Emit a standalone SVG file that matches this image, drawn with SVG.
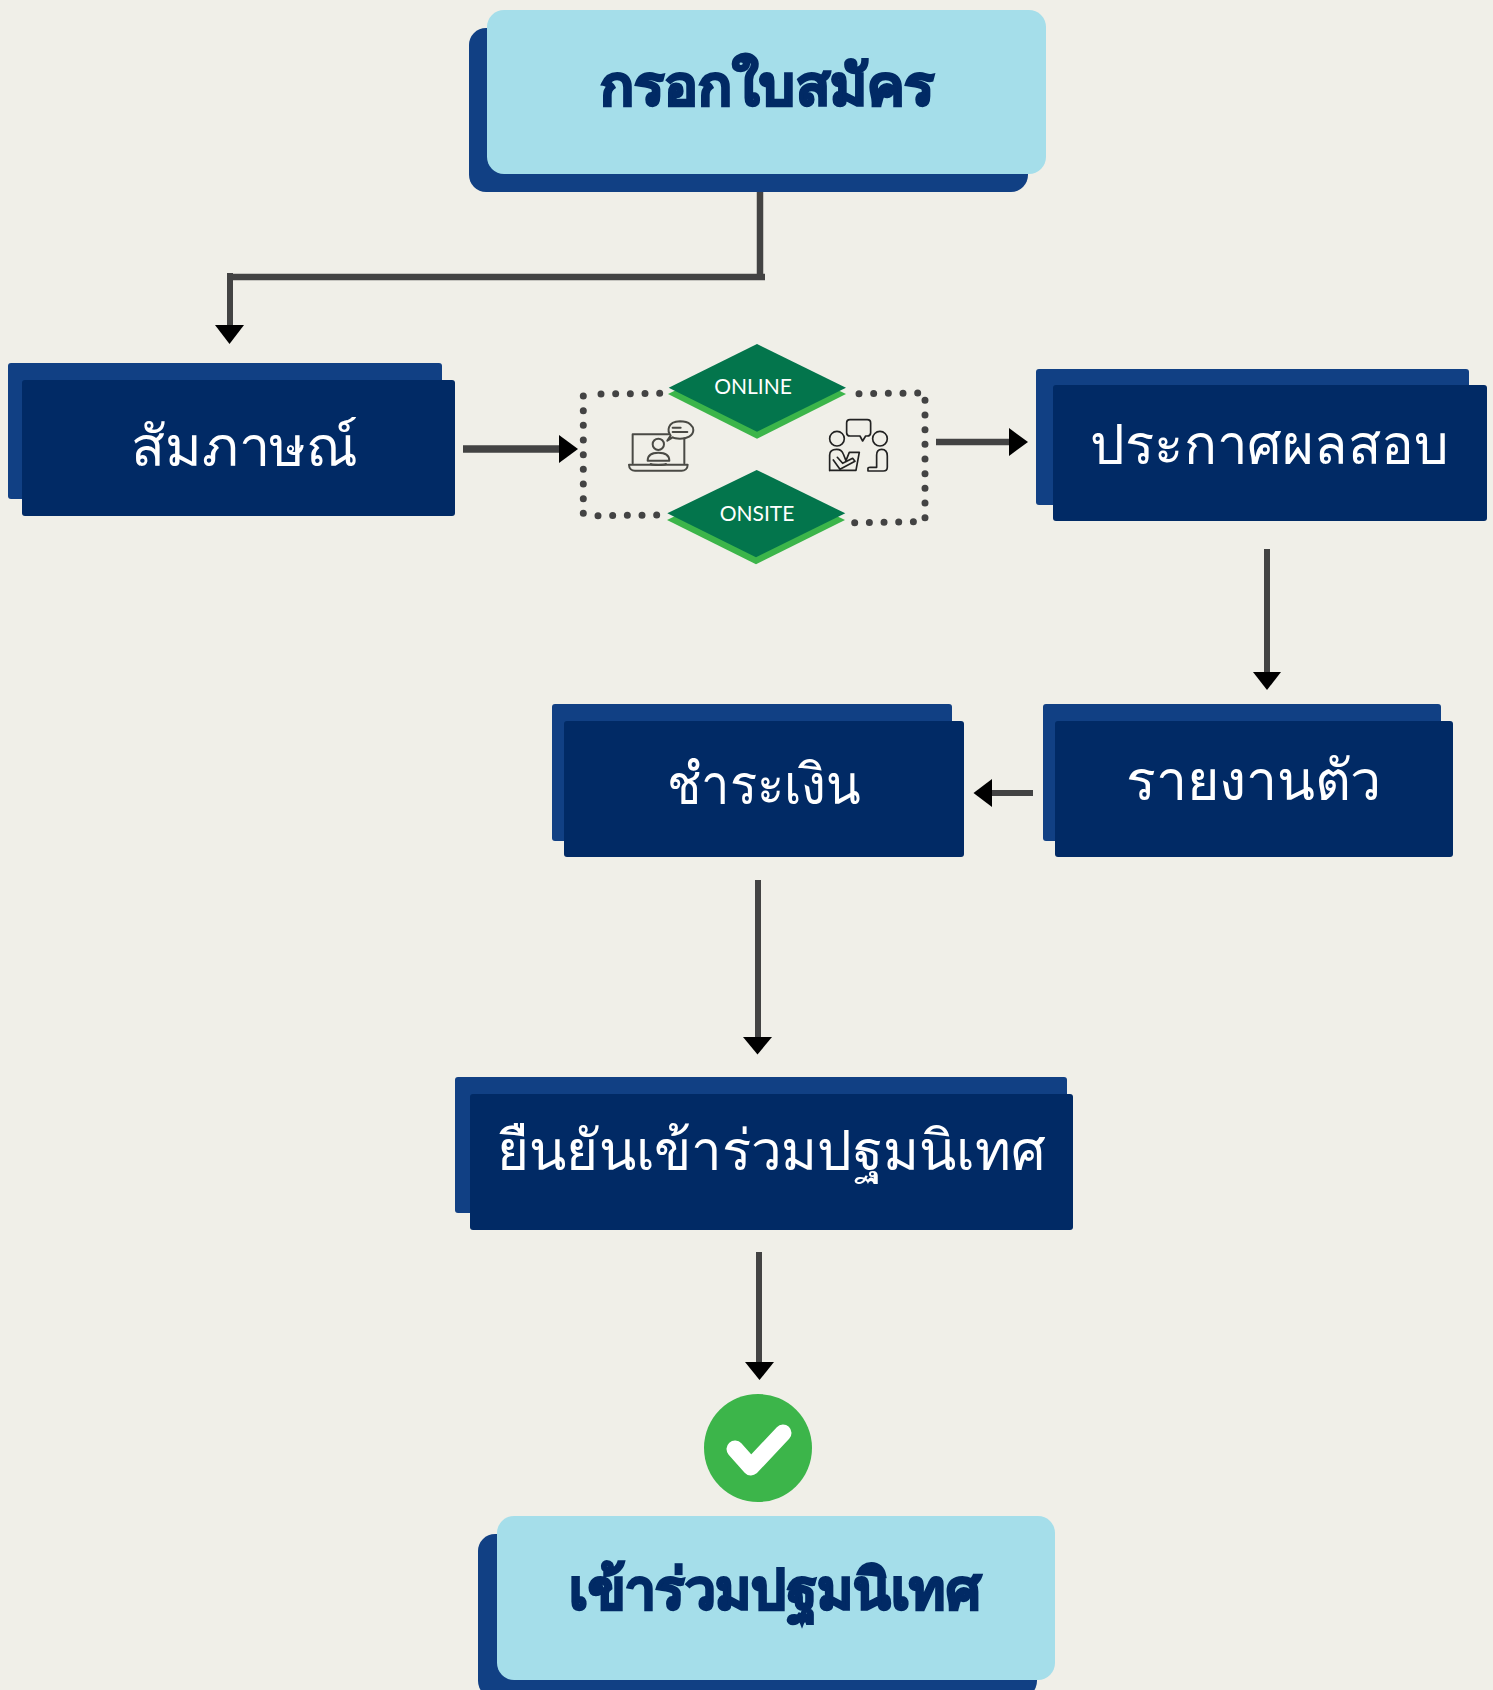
<svg xmlns="http://www.w3.org/2000/svg" width="1493" height="1690" viewBox="0 0 1493 1690">
<style>
.back{fill:#114084}.navy{fill:#012a65}.light{fill:#a5deea}
.th{font-family:"Noto Sans","DejaVu Sans","Liberation Sans",sans-serif;font-size:56px}
.w{fill:#fff}.b{fill:#012a65;font-weight:700;stroke:#012a65;stroke-width:2.500px}
.tag{font-family:"Lato","Noto Sans",sans-serif;font-size:21px;fill:#fff;text-anchor:middle}
.line{stroke:#434343;fill:none}
.head{fill:#000}
.dots{fill:none;stroke:#434343;stroke-width:7;stroke-linecap:round;stroke-dasharray:0 14.67}
.ic{fill:none;stroke:#4a4a45;stroke-width:6;stroke-linejoin:round;stroke-linecap:round}
.ic2{fill:none;stroke:#222;stroke-width:5;stroke-linejoin:round;stroke-linecap:round}
</style>
<rect width="1493" height="1690" fill="#f0efe8"/>
<g id="connectors">
<path class="line" stroke-width="6.500" d="M760 192V277M765 277H230"/>
<path class="line" stroke-width="6" d="M230 273V326"/><path class="head" d="M215 325H244L229.500 344Z"/>
<path class="line" stroke-width="7.500" d="M463 449H560"/><path class="head" d="M559 435L578 449L559 463Z"/>
<path class="line" stroke-width="6.500" d="M936 442H1010"/><path class="head" d="M1009 428L1028 442L1009 456Z"/>
<path class="line" stroke-width="6" d="M1267 549V674"/><path class="head" d="M1253 672H1281L1267 690Z"/>
<path class="line" stroke-width="6" d="M1033 793H991"/><path class="head" d="M992 779V807L973.500 793Z"/>
<path class="line" stroke-width="6" d="M758 880V1038"/><path class="head" d="M743 1037H772L757.500 1054.500Z"/>
<path class="line" stroke-width="6" d="M759 1252V1363"/><path class="head" d="M745 1362H774L759.500 1380Z"/>
</g>
<g id="node-apply">
<rect class="back" x="469" y="28" width="559" height="164" rx="17"/>
<rect class="light" x="487" y="10" width="559" height="164" rx="17"/>
<text class="th b" x="600" y="105" textLength="334" lengthAdjust="spacingAndGlyphs">กรอกใบสมัคร</text>
</g>
<g id="node-interview">
<rect class="back" x="8" y="363" width="434" height="136" rx="3"/>
<rect class="navy" x="22" y="380" width="433" height="136" rx="3"/>
<text class="th w" x="131" y="466" textLength="227" lengthAdjust="spacingAndGlyphs">สัมภาษณ์</text>
</g>
<g id="node-mode">
<path class="dots" d="M601 394L661 393.300"/>
<path class="dots" d="M583.300 396V514"/>
<path class="dots" d="M598 515.700L657 515"/>
<path class="dots" d="M859 393.700L918 393"/>
<path class="dots" d="M925 400.300V518"/>
<path class="dots" d="M854.700 522.700L914 521.700"/>
<path fill="#3cb54a" d="M668 394L757 351L846 394L757 438.700Z"/>
<path fill="#03754c" d="M668.700 387.700L757 344L846 387.700L757 431.700Z"/>
<text class="tag" x="753" y="394">ONLINE</text>
<path fill="#3cb54a" d="M667 520L756 477L845 520L756 564.300Z"/>
<path fill="#03754c" d="M667.300 513.300L756.700 470L845.300 513.300L756 557.300Z"/>
<text class="tag" x="757" y="521">ONSITE</text>
<g transform="translate(560 330) scale(.3333)">
<g class="ic">
<path d="M325 313H218V400M373 325V400"/>
<path d="M207 404H383C383 416 374 422 365 422H225C216 422 207 416 207 404Z"/>
<circle cx="295" cy="343" r="17"/>
<path d="M263 392C263 374 278 368 295 368S328 374 328 392ZM272 402C280 406 310 406 318 402"/>
<path d="M322 332L332 317C322 304 320 275 360 274C390 274 400 290 400 300C400 318 380 326 360 326C350 326 342 325 338 322Z"/>
<path d="M338 293H362M338 306H382"/>
</g>
<g class="ic2">
<path d="M870 269H922Q932 269 932 279V308Q932 318 922 318H917L908 333L900 318H870Q860 318 860 308V279Q860 269 870 269Z"/>
<circle cx="831" cy="326" r="22"/><circle cx="960" cy="326" r="22"/>
<path d="M809 422V375Q809 358 830 358Q845 358 850 372L858 392L868 367H898L888 421H809"/>
<path d="M820 390L840 418L885 394L878 385L848 400L832 382"/>
<path d="M924 423V414Q924 412 930 412H950L950 375Q950 358 965 358Q982 358 982 378V412Q982 423 970 423Z"/>
</g>
</g>
</g>
<g id="node-result">
<rect class="back" x="1036" y="369" width="433" height="136" rx="3"/>
<rect class="navy" x="1053" y="385" width="434" height="136" rx="3"/>
<text class="th w" x="1090" y="464" textLength="359" lengthAdjust="spacingAndGlyphs">ประกาศผลสอบ</text>
</g>
<g id="node-report">
<rect class="back" x="1043" y="704" width="398" height="137" rx="3"/>
<rect class="navy" x="1055" y="721" width="398" height="136" rx="3"/>
<text class="th w" x="1126" y="800" textLength="255" lengthAdjust="spacingAndGlyphs">รายงานตัว</text>
</g>
<g id="node-pay">
<rect class="back" x="552" y="704" width="400" height="137" rx="3"/>
<rect class="navy" x="564" y="721" width="400" height="136" rx="3"/>
<text class="th w" x="667" y="804" textLength="193" lengthAdjust="spacingAndGlyphs">ชำระเงิน</text>
</g>
<g id="node-confirm">
<rect class="back" x="455" y="1077" width="612" height="136" rx="3"/>
<rect class="navy" x="470" y="1094" width="603" height="136" rx="3"/>
<text class="th w" x="497" y="1170" textLength="549" lengthAdjust="spacingAndGlyphs">ยืนยันเข้าร่วมปฐมนิเทศ</text>
</g>
<g id="node-check">
<circle cx="758" cy="1448" r="54" fill="#3cb54a"/>
<path d="M735 1449L751 1467L783 1433" fill="none" stroke="#fff" stroke-width="17" stroke-linecap="round" stroke-linejoin="round"/>
</g>
<g id="node-join">
<rect class="back" x="478" y="1534" width="559" height="164" rx="17"/>
<rect class="light" x="497" y="1516" width="558" height="164" rx="17"/>
<text class="th b" x="569" y="1609" textLength="412" lengthAdjust="spacingAndGlyphs">เข้าร่วมปฐมนิเทศ</text>
</g>
</svg>
